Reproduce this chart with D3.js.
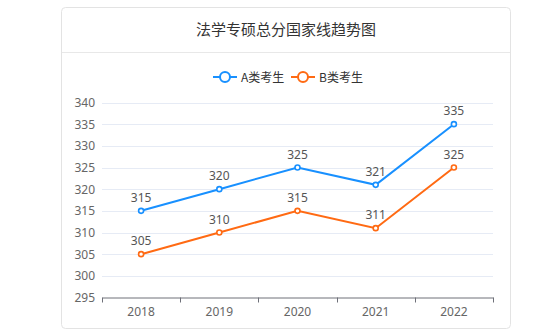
<!DOCTYPE html>
<html>
<head>
<meta charset="utf-8">
<script src="https://cdn.jsdelivr.net/npm/d3@7"></script>
<style>
  html, body { margin: 0; padding: 0; background: #fff; }
  svg { display: block; font-family: "Noto Sans CJK SC", "Noto Sans", sans-serif; }
</style>
</head>
<body>
<svg id="chart" width="560" height="336"></svg>
<script>
const title = "法学专硕总分国家线趋势图";
const years = ["2018", "2019", "2020", "2021", "2022"];
const seriesNames = ["A类考生", "B类考生"];
const seriesA = [315, 320, 325, 321, 335];
const seriesB = [305, 310, 315, 311, 325];
const yTicks = [295, 300, 305, 310, 315, 320, 325, 330, 335, 340];
const colors = ["#1890ff", "#ff6a13"];

const svg = d3.select("#chart");

// card frame
svg.append("rect")
  .attr("x", 61.5).attr("y", 7.5).attr("width", 449).attr("height", 321)
  .attr("rx", 4).attr("fill", "#fff").attr("stroke", "#e3e3e3");
svg.append("line")
  .attr("x1", 62).attr("x2", 510).attr("y1", 52.5).attr("y2", 52.5)
  .attr("stroke", "#e8e8e8");
svg.append("text")
  .attr("x", 286).attr("y", 35).attr("text-anchor", "middle")
  .attr("font-size", 15).attr("fill", "#333").text(title);

const x = d3.scaleBand().domain(years).range([102, 493]);
const y = d3.scaleLinear().domain([295, 340]).range([297.5, 102.5]);

// grid
svg.append("g").selectAll("line").data(yTicks.slice(1)).join("line")
  .attr("x1", 102).attr("x2", 493)
  .attr("y1", d => Math.round(y(d)) + 0.5).attr("y2", d => Math.round(y(d)) + 0.5)
  .attr("stroke", "#e6ebf5");

// y axis labels
const yAxis = d3.axisLeft(y).tickValues(yTicks).tickSize(0).tickPadding(7);
const gy = svg.append("g").attr("transform", "translate(102,0)").call(yAxis);
gy.select(".domain").remove();
gy.selectAll("text").attr("font-size", 12).attr("fill", "#666")
  .style("font-family", "'Noto Sans', sans-serif");

// x axis
const xAxis = d3.axisBottom(x).tickSize(0).tickPadding(10);
const gx = svg.append("g").attr("transform", "translate(0,297.5)").call(xAxis);
gx.select(".domain").attr("stroke", "#6e7079");
gx.selectAll("text").attr("font-size", 12).attr("fill", "#666")
  .style("font-family", "'Noto Sans', sans-serif");
const edges = years.map(d => x(d)).concat([x.range()[1]]);
gx.append("g").selectAll("line").data(edges).join("line")
  .attr("x1", d => Math.round(d) + 0.5).attr("x2", d => Math.round(d) + 0.5)
  .attr("y1", 0).attr("y2", 5).attr("stroke", "#6e7079");

const cx = d => x(d) + x.bandwidth() / 2;
const line = d3.line().x((d, i) => cx(years[i])).y(d => y(d));

[seriesA, seriesB].forEach((vals, k) => {
  const g = svg.append("g");
  g.append("path").datum(vals).attr("d", line)
    .attr("fill", "none").attr("stroke", colors[k]).attr("stroke-width", 2);
  g.selectAll("circle").data(vals).join("circle")
    .attr("cx", (d, i) => cx(years[i])).attr("cy", d => y(d)).attr("r", 2.5)
    .attr("fill", "#fff").attr("stroke", colors[k]).attr("stroke-width", 1.6);
  g.selectAll("text").data(vals).join("text")
    .attr("x", (d, i) => cx(years[i])).attr("y", d => y(d) - 9)
    .attr("text-anchor", "middle").attr("font-size", 12).attr("fill", "#555")
    .style("font-family", "'Noto Sans', sans-serif")
    .text(d => d);
});

// legend
const legendX = [213, 291];
seriesNames.forEach((name, k) => {
  const g = svg.append("g").attr("transform", `translate(${legendX[k]},77)`);
  g.append("line").attr("x1", 0).attr("x2", 24).attr("stroke", colors[k]).attr("stroke-width", 2);
  g.append("circle").attr("cx", 12).attr("r", 5).attr("fill", "#fff")
    .attr("stroke", colors[k]).attr("stroke-width", 2);
  g.append("text").attr("x", 28).attr("y", 4.5).attr("font-size", 12).attr("fill", "#333")
    .text(name);
});
</script>
</body>
</html>
